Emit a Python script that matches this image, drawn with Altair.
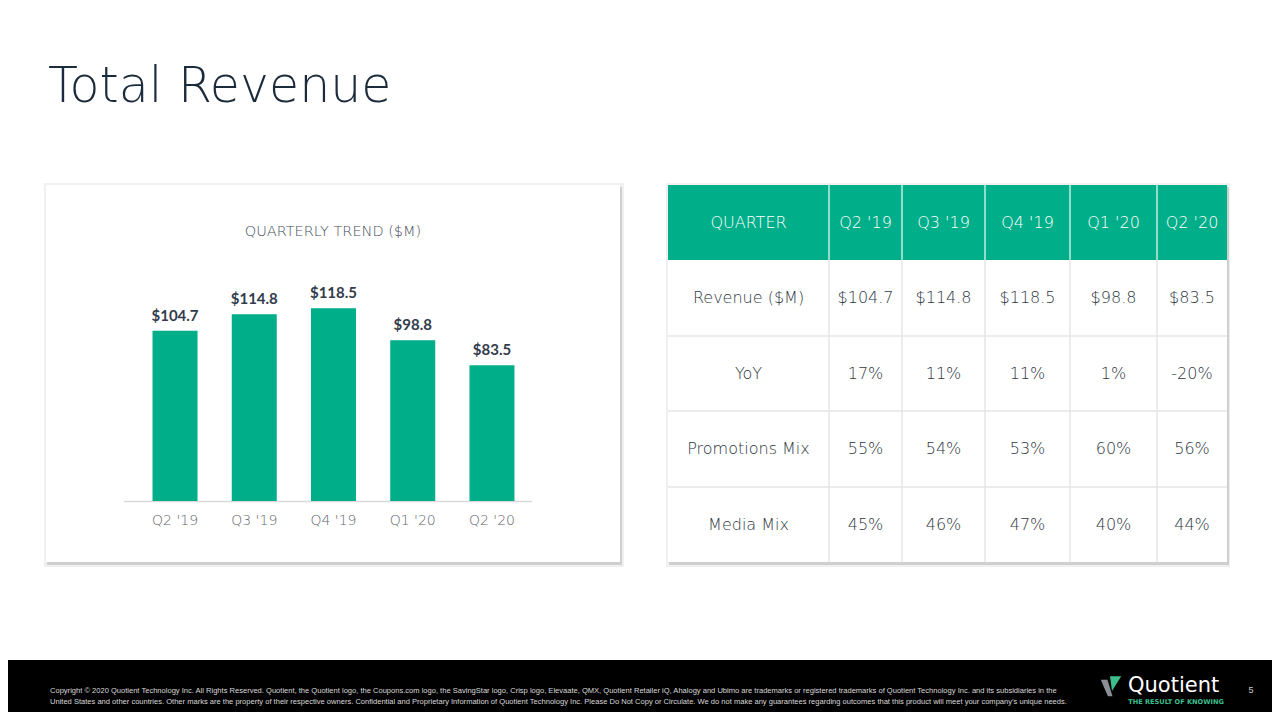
import altair as alt
import pandas as pd

# ---------------- data ----------------
quarters = ["Q2 '19", "Q3 '19", "Q4 '19", "Q1 '20", "Q2 '20"]
revenue = [104.7, 114.8, 118.5, 98.8, 83.5]
yoy = ["17%", "11%", "11%", "1%", "-20%"]
promotions_mix = ["55%", "54%", "53%", "60%", "56%"]
media_mix = ["45%", "46%", "47%", "40%", "44%"]
row_labels = ["QUARTER", "Revenue ($M)", "YoY", "Promotions Mix", "Media Mix"]

title_text = "Total Revenue"
chart_title = "QUARTERLY TREND ($M)"
footer_lines = [
    "Copyright \u00a9 2020 Quotient Technology Inc. All Rights Reserved. Quotient, the Quotient logo, the Coupons.com logo, the SavingStar logo, Crisp logo, Elevaate, QMX, Quotient Retailer iQ, Ahalogy and Ubimo are trademarks or registered trademarks of Quotient Technology Inc. and its subsidiaries in the",
    "United States and other countries. Other marks are the property of their respective owners. Confidential and Proprietary Information of Quotient Technology Inc. Please Do Not Copy or Circulate. We do not make any guarantees regarding outcomes that this product will meet your company\u2019s unique needs.",
]

# ---------------- layout (page px -> chart px) ----------------
W, H = 1264, 704
O = 8  # page margin


def px(v):
    return v - O


GREEN = "#00ae8a"
NAVY = "#1c2b3c"
COL_EDGES = [668, 829, 902, 985, 1070, 1157, 1227]
ROW_EDGES = [185, 260, 336, 411, 487, 562]

NOSCALE = dict(scale=None, axis=None)

# ---------------- background shapes ----------------
rects = [
    # left card shadow + card
    (44, 183, 624, 567, "#f0f0f0"),
    (47, 187, 622, 565, "#cfcfcf"),
    (46, 185, 620, 562, "#ffffff"),
    # right card shadow + card
    (666, 183, 1230, 567, "#f0f0f0"),
    (669, 187, 1229, 565, "#cfcfcf"),
    (668, 185, 1227, 562, "#ffffff"),
    # table header
    (668, 185, 1227, 260, GREEN),
    # footer
    (0, 660, 1280, 720, "#000000"),
]
rect_df = pd.DataFrame(
    [dict(x=px(a), y=px(b), x2=px(c), y2=px(d), c=col) for a, b, c, d, col in rects]
)
rect_layer = alt.Chart(rect_df).mark_rect().encode(
    x=alt.X("x:Q", **NOSCALE), x2="x2:Q",
    y=alt.Y("y:Q", **NOSCALE), y2="y2:Q",
    color=alt.Color("c:N", scale=None),
)

lines = []
for e in COL_EDGES[1:-1]:
    lines.append((e, 185, e, 260, "#bfeee2"))
    lines.append((e, 260, e, 562, "#e6e6e6"))
for e in ROW_EDGES[2:-1]:
    lines.append((668, e, 1227, e, "#e6e6e6"))
lines.append((124, 501.5, 532, 501.5, "#d9d9d9"))
line_df = pd.DataFrame(
    [dict(x=px(a), y=px(b), x2=px(c), y2=px(d), c=col) for a, b, c, d, col in lines]
)
line_layer = alt.Chart(line_df).mark_rule(strokeWidth=1.5).encode(
    x=alt.X("x:Q", **NOSCALE), x2="x2:Q",
    y=alt.Y("y:Q", **NOSCALE), y2="y2:Q",
    color=alt.Color("c:N", scale=None),
)


def text_layer(df, **mark):
    return alt.Chart(df).mark_text(**mark).encode(
        x=alt.X("x:Q", **NOSCALE),
        y=alt.Y("y:Q", **NOSCALE),
        text="t:N",
    )


title_layer = text_layer(
    pd.DataFrame([dict(x=px(48), y=px(102), t=title_text)]),
    font="DejaVu Sans", fontSize=49, fontWeight=200, color=NAVY,
    align="left", baseline="alphabetic",
)
subtitle_layer = text_layer(
    pd.DataFrame([dict(x=px(333), y=px(232), t=chart_title)]),
    font="DejaVu Sans", fontSize=14.5, fontWeight=300, color="#464f5c",
    align="center", baseline="middle",
)

# ---------------- table ----------------
table_rows = [quarters, [f"${v:.1f}" for v in revenue], yoy, promotions_mix, media_mix]
cells = []
for r, (lab, vals) in enumerate(zip(row_labels, table_rows)):
    ycen = (ROW_EDGES[r] + ROW_EDGES[r + 1]) / 2
    for c, t in enumerate([lab] + list(vals)):
        xcen = (COL_EDGES[c] + COL_EDGES[c + 1]) / 2
        cells.append(dict(x=px(xcen), y=px(ycen), t=t, header=(r == 0)))
cell_df = pd.DataFrame(cells)
header_layer = text_layer(
    cell_df[cell_df.header], font="DejaVu Sans", fontSize=16, fontWeight=300,
    color="#ffffff", align="center", baseline="middle",
)
body_layer = text_layer(
    cell_df[~cell_df.header], font="DejaVu Sans", fontSize=16, fontWeight=300,
    color="#2e3641", align="center", baseline="middle",
)

# ---------------- footer ----------------
footer_layer = text_layer(
    pd.DataFrame([dict(x=px(50), y=px(691), t=footer_lines[0]),
                  dict(x=px(50), y=px(702), t=footer_lines[1])]),
    font="Liberation Sans", fontSize=7.55, color="#d9d9d9",
    align="left", baseline="middle",
)
logo_layer = text_layer(
    pd.DataFrame([dict(x=px(1128), y=px(692), t="Quotient")]),
    font="DejaVu Sans", fontSize=21, color="#ffffff",
    align="left", baseline="alphabetic",
)
tag_layer = text_layer(
    pd.DataFrame([dict(x=px(1176), y=px(701.5), t="THE RESULT OF KNOWING")]),
    font="DejaVu Sans", fontSize=6.6, fontWeight="bold", color="#3cbf8c",
    align="center", baseline="middle",
)
page_layer = text_layer(
    pd.DataFrame([dict(x=px(1251), y=px(690), t="5")]),
    font="Liberation Sans", fontSize=9, color="#cccccc",
    align="center", baseline="middle",
)
icon_df = pd.DataFrame([
    dict(x=px(1111), y=px(686), c="#8b9097", s="M-1,-0.6L-0.35,-0.6L0.15,1L-0.3,1Z"),
    dict(x=px(1111), y=px(686), c="#3cbf8c", s="M-0.1,-0.95L1,-0.95L0.1,0.5Z"),
])
icon_layers = [
    alt.Chart(icon_df.iloc[[i]]).mark_point(
        shape=icon_df.s[i], size=420, filled=True, opacity=1, strokeWidth=0
    ).encode(
        x=alt.X("x:Q", **NOSCALE), y=alt.Y("y:Q", **NOSCALE),
        color=alt.Color("c:N", scale=None),
    )
    for i in range(len(icon_df))
]

# ---------------- bar chart ----------------
bar_df = pd.DataFrame({"quarter": quarters, "revenue": revenue,
                       "label": [f"${v:.1f}" for v in revenue]})
PX_PER_M = 1.627
xs = alt.Scale(domain=quarters, range=[px(135.4), px(531.6)],
               paddingInner=0.432, paddingOuter=0.216)
ys = alt.Scale(domain=[0, 150], range=[px(501), px(501 - 150 * PX_PER_M)])
base = alt.Chart(bar_df).encode(
    x=alt.X("quarter:N", scale=xs, axis=None, sort=quarters),
)
bars = base.mark_bar(color=GREEN).encode(
    y=alt.Y("revenue:Q", scale=ys, axis=None)
)
vlabels = base.mark_text(font="Lato", fontSize=15, fontWeight="bold",
                         color="#323c4c", dy=-10, baseline="alphabetic").encode(
    y=alt.Y("revenue:Q", scale=ys, axis=None), text="label:N"
)
xlabels = base.mark_text(font="DejaVu Sans", fontSize=14, fontWeight=300,
                         color="#5f646b", baseline="middle").encode(
    y=alt.value(px(521)), text="quarter:N"
)
bar_chart = alt.layer(bars, vlabels, xlabels)

chart = alt.layer(
    rect_layer, line_layer, title_layer, subtitle_layer,
    header_layer, body_layer, footer_layer, logo_layer, tag_layer, page_layer,
    *icon_layers, bar_chart,
).resolve_scale(x="independent", y="independent").properties(
    width=W, height=H, padding=0, autosize=alt.AutoSizeParams(type="none"),
    background="#ffffff",
).configure_view(stroke=None)

chart.save("out.html", embed_options={"renderer": "svg", "actions": False})
